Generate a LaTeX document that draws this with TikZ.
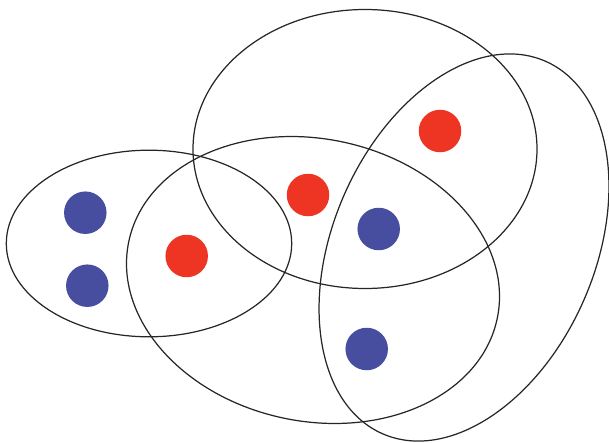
\documentclass[tikz,border=0pt]{standalone}
\usepackage{tikz}
\usetikzlibrary{positioning}
\definecolor{dotblue}{RGB}{71, 78, 160}
\definecolor{dotred}{RGB}{238, 53, 36}

\begin{document}
\begin{tikzpicture}[scale=0.2,
    setline/.style={line width=0.7pt, black!85},
    bluedot/.style={circle, fill=dotblue, inner sep=0pt, minimum size=0.85cm},
    reddot/.style={circle, fill=dotred, inner sep=0pt, minimum size=0.85cm}]

  \useasboundingbox (0,0) rectangle (60.9,44.2);

  % ===== 四个集合（椭圆） =====
  \draw[setline] (14.9, 19.85) ellipse [x radius=14.27, y radius=9.33];
  \draw[setline] (36.5, 29.3) ellipse [x radius=17.2, y radius=13.95];
  \draw[setline] (31.3, 16.2) ellipse [x radius=18.82, y radius=14.12, rotate=-11.75];
  \draw[setline] (46.4, 19.45) ellipse [x radius=20.33, y radius=13.09, rotate=66.4];

  % ===== 蓝点 =====
  \node[bluedot] (b1) at (8.53, 22.93) {};
  \node[bluedot] (b2) at (8.73, 15.63) {};
  \node[bluedot] (b3) at (37.87, 21.3) {};
  \node[bluedot] (b4) at (36.67, 9.3) {};

  % ===== 红点 =====
  \node[reddot] (r1) at (18.67, 18.6) {};
  \node[reddot] (r2) at (30.8, 24.7) {};
  \node[reddot] (r3) at (44.0, 31.1) {};

\end{tikzpicture}
\end{document}
